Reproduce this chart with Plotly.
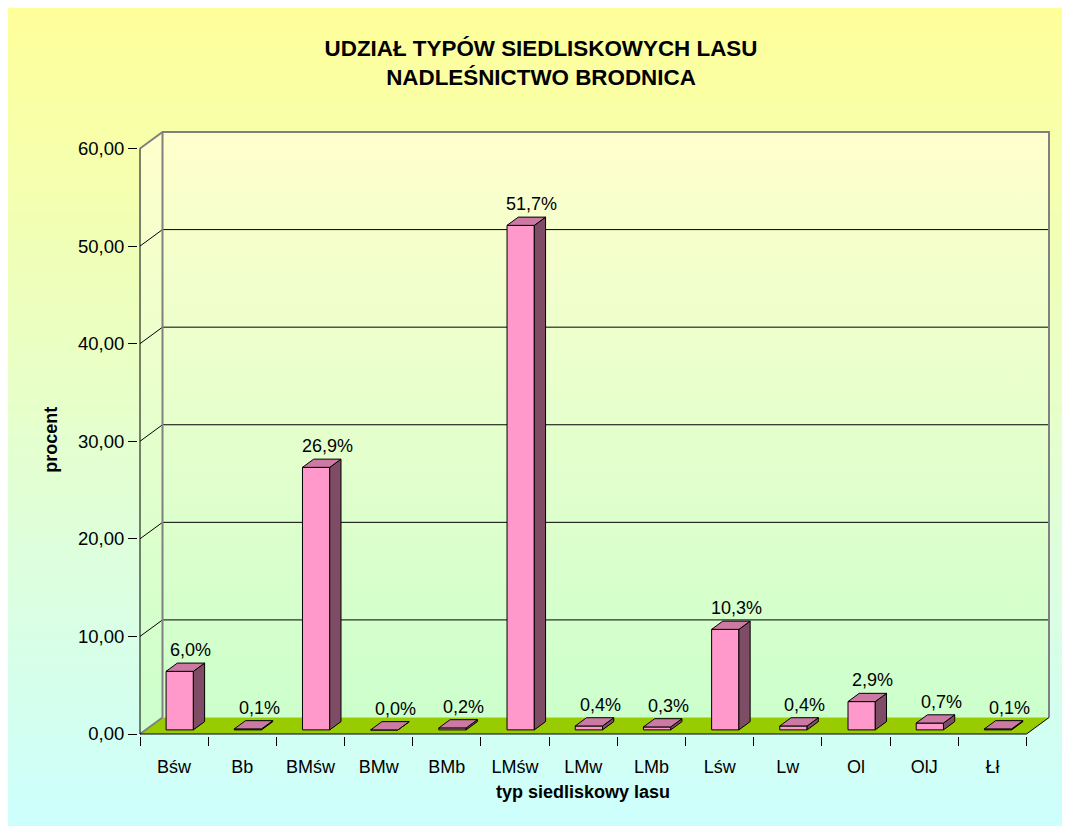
import plotly.graph_objects as go

# ---------------- data ----------------
categories = ["Bśw", "Bb", "BMśw", "BMw", "BMb", "LMśw", "LMw", "LMb", "Lśw", "Lw", "Ol", "OlJ", "Łł"]
percent = [6.0, 0.1, 26.9, 0.0, 0.2, 51.7, 0.4, 0.3, 10.3, 0.4, 2.9, 0.7, 0.1]
y_ticks = [0, 10, 20, 30, 40, 50, 60]
y_tick_labels = ["0,00", "10,00", "20,00", "30,00", "40,00", "50,00", "60,00"]
title_text = "UDZIAŁ TYPÓW SIEDLISKOWYCH LASU<br>NADLEŚNICTWO BRODNICA"
x_title = "typ siedliskowy lasu"
y_title = "procent"

# ---------------- geometry ----------------
OFF = 8                      # page body margin
W, H = 1070, 826
L, R, T, B = 140 - OFF, 1049 - OFF, 132 - OFF, 734 - OFF   # plot box in figure pixels
N = len(categories)
DX = 0.33        # depth offset in category units
YMAX = 60
DY = 1.69        # depth offset in value units
XR = N + DX
YR = YMAX + DY
sx = (R - L) / XR
sy = (B - T) / YR
PAD = 2
FONT = "Liberation Sans, Arial, sans-serif"


def P(c, v, d):
    return c + d * DX, v + d * DY


def xp(px_page):
    return (px_page - OFF - L) / (R - L)


def yp(py_page):
    return (B - (py_page - OFF)) / (B - T)


def poly(points):
    xs = [p[0] for p in points] + [points[0][0], None]
    ys = [p[1] for p in points] + [points[0][1], None]
    return xs, ys


def seg(points):
    return [p[0] for p in points] + [None], [p[1] for p in points] + [None]


fig = go.Figure()

# ---- walls ----
wall_scale = [[0, "#CCFFCC"], [1, "#FFFFCC"]]
bx, by = poly([P(0, 0, 1), P(N, 0, 1), P(N, YMAX, 1), P(0, YMAX, 1)])
fig.add_trace(go.Scatter(x=bx, y=by, mode="lines", fill="toself", line=dict(width=0),
                         fillgradient=dict(type="vertical", colorscale=wall_scale),
                         hoverinfo="skip", showlegend=False))
lx, ly = poly([P(0, 0, 0), P(0, 0, 1), P(0, YMAX, 1), P(0, YMAX, 0)])
fig.add_trace(go.Scatter(x=lx, y=ly, mode="lines", fill="toself", line=dict(width=0),
                         fillgradient=dict(type="vertical", colorscale=wall_scale),
                         hoverinfo="skip", showlegend=False))
# floor
fx, fy = poly([P(0, 0, 0), P(N, 0, 0), P(N, 0, 1), P(0, 0, 1)])
fig.add_trace(go.Scatter(x=fx, y=fy, mode="lines", fill="toself", fillcolor="#99CC00",
                         line=dict(width=0), hoverinfo="skip", showlegend=False))

# ---- gridlines (black) ----
gx, gy = [], []
for v in y_ticks[1:-1]:
    a, b = seg([P(0, v, 0), P(0, v, 1), P(N, v, 1)])
    gx += a; gy += b
fig.add_trace(go.Scatter(x=gx, y=gy, mode="lines", line=dict(color="#000000", width=1),
                         hoverinfo="skip", showlegend=False))

# ---- grey wall edges ----
ex, ey = [], []
for pts in ([P(0, 0, 0), P(0, 0, 1)],
            [P(0, YMAX, 0), P(0, YMAX, 1), P(N, YMAX, 1), P(N, 0, 1)],
            [P(0, 0, 1), P(0, YMAX, 1)]):
    a, b = seg(pts)
    ex += a; ey += b
fig.add_trace(go.Scatter(x=ex, y=ey, mode="lines", line=dict(color="#808080", width=2),
                         hoverinfo="skip", showlegend=False))

# ---- front axis lines (black) ----
a, b = seg([P(0, YMAX, 0), P(0, 0, 0), P(N, 0, 0), P(N, 0, 1)])
fig.add_trace(go.Scatter(x=a, y=b, mode="lines", line=dict(color="#000000", width=1),
                         hoverinfo="skip", showlegend=False))

# ---- 3D bars ----
BW = 0.4
D0, D1 = 0.25, 0.75
frx, fry, sdx, sdy, tpx, tpy = [], [], [], [], [], []
for i, v in enumerate(percent):
    x0 = i + 0.5 - BW / 2
    x1 = i + 0.5 + BW / 2
    a, b = poly([P(x0, 0, D0), P(x1, 0, D0), P(x1, v, D0), P(x0, v, D0)])
    frx += a; fry += b
    a, b = poly([P(x1, 0, D0), P(x1, 0, D1), P(x1, v, D1), P(x1, v, D0)])
    sdx += a; sdy += b
    a, b = poly([P(x0, v, D0), P(x1, v, D0), P(x1, v, D1), P(x0, v, D1)])
    tpx += a; tpy += b
for xs, ys, col in ((frx, fry, "#FF99CC"), (sdx, sdy, "#7F4C66"), (tpx, tpy, "#CC7AA3")):
    fig.add_trace(go.Scatter(x=xs, y=ys, mode="lines", fill="toself", fillcolor=col,
                             line=dict(color="#000000", width=1),
                             hoverinfo="skip", showlegend=False))

# category labels on an overlaid axis
fig.add_trace(go.Scatter(x=[i + 0.5 for i in range(N)], y=[0] * N, xaxis="x2", mode="markers",
                         marker=dict(opacity=0), hoverinfo="skip", showlegend=False))

annotations = []
for i, v in enumerate(percent):
    cx, cy = P(i + 0.5, v, D1)
    annotations.append(dict(x=cx, y=cy, xref="x", yref="y", text=f"{v:.1f}".replace(".", ",") + "%",
                            showarrow=False, yanchor="middle", xanchor="center", yshift=13,
                            font=dict(size=18, color="#000000", family=FONT)))
annotations.append(dict(x=xp(583), y=yp(790), xref="paper", yref="paper", text=f"<b>{x_title}</b>",
                        showarrow=False, xanchor="center", yanchor="middle",
                        font=dict(size=18, color="#000000", family=FONT)))
annotations.append(dict(x=xp(53), y=yp(440), xref="paper", yref="paper", text=f"<b>{y_title}</b>",
                        showarrow=False, xanchor="center", yanchor="middle", textangle=-90,
                        font=dict(size=18, color="#000000", family=FONT)))

# ---- background gradient bands ----
shapes = []
top_c = (255, 255, 153)
bot_c = (204, 255, 255)
NB = 100
y_start, y_end = 8, 836
for k in range(NB):
    p0 = y_start + (y_end - y_start) * k / NB
    p1 = y_start + (y_end - y_start) * (k + 1) / NB + 1
    t = (k + 0.5) / NB
    c = tuple(round(top_c[j] + (bot_c[j] - top_c[j]) * t) for j in range(3))
    shapes.append(dict(type="rect", xref="paper", yref="paper", x0=xp(8), x1=xp(1090),
                       y0=yp(p1), y1=yp(p0), fillcolor=f"rgb{c}", line=dict(width=0), layer="below"))
shapes.append(dict(type="rect", xref="paper", yref="paper", x0=xp(8.5), x1=xp(1100),
                   y0=yp(860), y1=yp(8.5), fillcolor="rgba(0,0,0,0)",
                   line=dict(color="#000000", width=1), layer="above"))

xr = [-PAD / sx, XR + PAD / sx]
yr = [-PAD / sy, YR + PAD / sy]

fig.update_layout(
    width=W, height=H,
    margin=dict(l=L - PAD, r=W - R - PAD, t=T - PAD, b=H - B - PAD, autoexpand=False),
    paper_bgcolor="#D5FFF0",
    plot_bgcolor="rgba(0,0,0,0)",
    showlegend=False,
    title=dict(text=f"<b>{title_text}</b>", x=(541 - OFF) / W, xanchor="center",
               y=1 - (55.5 - OFF) / H, yanchor="middle",
               font=dict(size=22.4, color="#000000", family=FONT)),
    xaxis=dict(range=xr, tickmode="array", tickvals=list(range(N + 1)), showticklabels=False,
               ticks="outside", ticklen=9, tickwidth=1, tickcolor="#000000",
               showgrid=False, zeroline=False, showline=False, fixedrange=True),
    xaxis2=dict(range=xr, overlaying="x", anchor="y", side="bottom", tickmode="array",
                tickvals=[i + 0.5 for i in range(N)], ticktext=categories,
                ticks="outside", ticklen=14, tickcolor="rgba(0,0,0,0)",
                tickfont=dict(size=18, color="#000000", family=FONT),
                showgrid=False, zeroline=False, showline=False, fixedrange=True),
    yaxis=dict(range=yr, tickmode="array", tickvals=y_ticks, ticktext=y_tick_labels,
               ticks="outside", ticklen=9, tickwidth=1, tickcolor="#000000",
               tickfont=dict(size=18.5, color="#000000", family=FONT),
               showgrid=False, zeroline=False, showline=False, fixedrange=True),
    shapes=shapes,
    annotations=annotations,
)

fig.write_html("out.html")
